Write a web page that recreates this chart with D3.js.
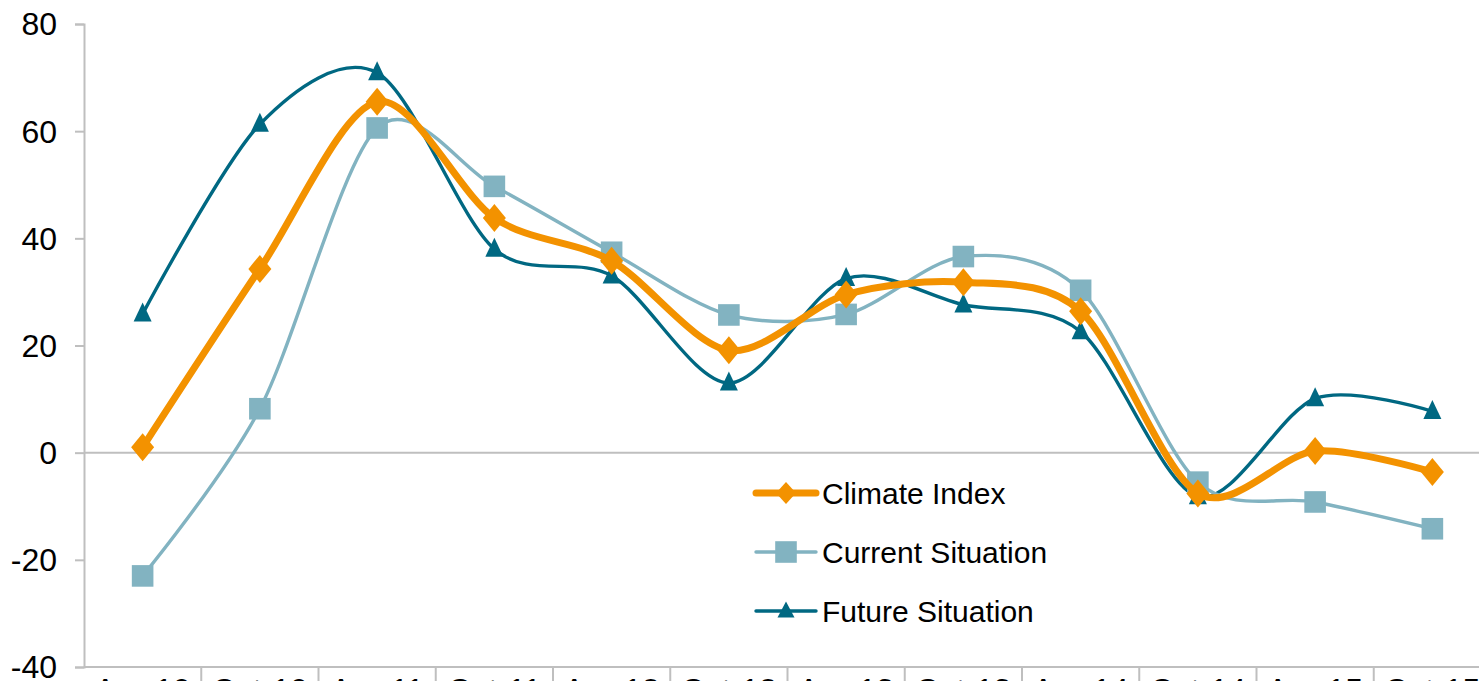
<!DOCTYPE html>
<html>
<head>
<meta charset="utf-8">
<script src="https://cdn.jsdelivr.net/npm/d3@7"></script>
<style>
  body { margin: 0; background: #fff; }
  svg { display: block; font-family: "Liberation Sans", Arial, sans-serif; }
</style>
</head>
<body>
<div id="chart"></div>
<script>
// data
var periods = ["Apr-10", "Oct-10", "Apr-11", "Oct-11", "Apr-12", "Oct-12",
               "Apr-13", "Oct-13", "Apr-14", "Oct-14", "Apr-15", "Oct-15"]
var climateIndex = [1, 34.3, 65.5, 43.8, 35.8, 19.1, 29.5, 31.8, 26.4, -7.6, 0.3, -3.6]
var currentSituation = [-23, 8.2, 60.6, 49.7, 37.4, 25.7, 25.8, 36.6, 30.3, -5.5, -9.2, -14.2]
var futureSituation = [25.9, 61.3, 70.9, 38, 33, 13, 32.5, 27.6, 22.6, -8.2, 10.1, 7.7]
var seriesNames = ["Climate Index", "Current Situation", "Future Situation"]
var yTicks = [-40, -20, 0, 20, 40, 60, 80]

var W = 1479, H = 681

var margin = { top: 24, left: 84, bottom: 14 }
var plotRight = 1491 // plot runs a bit past the right edge, as in the picture

var svg = d3.select("#chart")
  .append("svg")
  .attr("width", W)
  .attr("height", H)

var x = d3.scaleBand()
  .domain(periods)
  .range([margin.left, plotRight])
  .paddingInner(0)
  .paddingOuter(0)

var y = d3.scaleLinear()
  .domain([-40, 80])
  .range([H - margin.bottom, margin.top])

var axisColor = "#BFBFBF"

// Y axis
var yAxis = svg.append("g")
  .attr("transform", "translate(" + margin.left + ",0)")
  .call(d3.axisLeft(y).tickValues(yTicks).tickSize(9).tickPadding(18))
yAxis.select(".domain").attr("stroke", axisColor).attr("stroke-width", 2)
yAxis.selectAll(".tick line").attr("stroke", axisColor).attr("stroke-width", 2)
yAxis.selectAll(".tick text")
  .attr("fill", "#000")
  .attr("dy", "0.34em")
  .style("font-size", "32px")
  .style("font-family", "Liberation Sans, Arial, sans-serif")
  .text(function(d) { return String(d) }) // plain hyphen minus like the original

// zero line
svg.append("line")
  .attr("x1", margin.left).attr("x2", W)
  .attr("y1", y(0)).attr("y2", y(0))
  .attr("stroke", axisColor)
  .attr("stroke-width", 2)

// X axis (category axis along the bottom, separators between categories)
var xg = svg.append("g")
svg.append("line")
  .attr("x1", margin.left).attr("x2", W)
  .attr("y1", y(-40)).attr("y2", y(-40))
  .attr("stroke", axisColor)
  .attr("stroke-width", 2)
periods.forEach(function(p, i) {
  xg.append("line")
    .attr("x1", x(p) + x.bandwidth()).attr("x2", x(p) + x.bandwidth())
    .attr("y1", y(-40)).attr("y2", H)
    .attr("stroke", axisColor)
    .attr("stroke-width", 2)
  xg.append("text")
    .attr("x", x(p) + x.bandwidth() / 2)
    .attr("y", y(-40) + 34)
    .attr("text-anchor", "middle")
    .style("font-size", "32px")
    .text(p)
})

var cx = function(i) { return x(periods[i]) + x.bandwidth() / 2 }

// marker shapes (Excel markers are a bit taller than wide here)
var diamond = function(w, h) {
  return "M0," + (-h) + "L" + w + ",0L0," + h + "L" + (-w) + ",0Z"
}
var square = function(s) {
  return "M" + (-s) + "," + (-s) + "H" + s + "V" + s + "H" + (-s) + "Z"
}
var triangle = function(w, h) {
  return "M0," + (-h * 0.6) + "L" + w + "," + (h * 0.4) + "L" + (-w) + "," + (h * 0.4) + "Z"
}

var series = [
  { name: seriesNames[0], values: climateIndex, color: "#F39200", width: 7,
    marker: diamond(11.5, 14), legendMarker: diamond(10, 11) },
  { name: seriesNames[1], values: currentSituation, color: "#82B3C1", width: 3.4,
    marker: square(10.8), legendMarker: square(10.8) },
  { name: seriesNames[2], values: futureSituation, color: "#006882", width: 3.4,
    marker: triangle(9, 19), legendMarker: triangle(8.5, 16) }
]

var line = d3.line()
  .x(function(d, i) { return cx(i) })
  .y(function(d) { return y(d) })
  .curve(d3.curveCardinal.tension(0.1))

// draw in reverse order so Climate Index sits on top
series.slice().reverse().forEach(function(s) {
  svg.append("path")
    .datum(s.values)
    .attr("fill", "none")
    .attr("stroke", s.color)
    .attr("stroke-width", s.width)
    .attr("stroke-linejoin", "round")
    .attr("d", line)

  svg.append("g")
    .selectAll("path")
    .data(s.values)
    .enter()
    .append("path")
    .attr("transform", function(d, i) {
      return "translate(" + cx(i) + "," + y(d) + ")"
    })
    .attr("d", s.marker)
    .attr("fill", s.color)
})

// legend
var legend = svg.append("g")
series.forEach(function(s, i) {
  var ly = 493 + i * 59
  legend.append("line")
    .attr("x1", 756).attr("x2", 816)
    .attr("y1", ly).attr("y2", ly)
    .attr("stroke", s.color)
    .attr("stroke-width", s.width)
    .attr("stroke-linecap", "round")
  legend.append("path")
    .attr("transform", "translate(786," + ly + ")")
    .attr("d", s.legendMarker)
    .attr("fill", s.color)
  legend.append("text")
    .attr("x", 822)
    .attr("y", ly)
    .attr("dy", "0.36em")
    .style("font-size", "30px")
    .text(s.name)
})
</script>
</body>
</html>
